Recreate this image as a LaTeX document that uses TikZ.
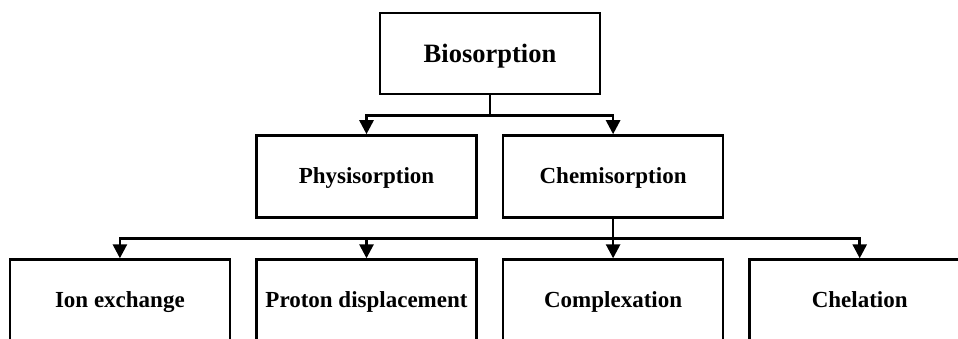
\documentclass[tikz,border=0pt]{standalone}
\usepackage{fontspec}
\setmainfont{Liberation Serif}
\usetikzlibrary{positioning,arrows.meta}
\tikzstyle{box_style}=[draw, line width=2.6pt, anchor=center, text centered,
font=\bfseries\fontsize{23}{27}\selectfont, text height=18pt, text depth=4pt,
minimum width=220pt, minimum height=82pt, inner sep=0pt]
\tikzstyle{box_top}=[box_style, font=\bfseries\fontsize{26.5}{30}\selectfont,
text height=21pt, text depth=3.4pt, minimum height=81pt]
\tikzstyle{myarrow}=[->, >={Triangle[width=14pt,length=14pt]}, line width=2.7pt]
\tikzstyle{line}=[line width=2.7pt]

\begin{document}
\begin{tikzpicture}[x=1pt,y=-1pt]
		\clip (0,0) rectangle (958,339) ;

		\node[box_top] (bio) at (490,53.5) {Biosorption} ;

		\node[box_style] (phys) at (366.5,176.5) {Physisorption} ;
		\node[box_style, right=24pt of phys] (chem) {Chemisorption} ;
		\draw[line] (bio.south) -- ++(0,20) coordinate (j1) ;
		\draw[myarrow] (j1) -| (phys.north) ;
		\draw[myarrow] (j1) -| (chem.north) ;

		\node[box_style, below=39.5pt of phys] (proton) {Proton displacement} ;
		\node[box_style, left=24pt of proton] (ion) {Ion exchange} ;
		\node[box_style, below=39.5pt of chem] (complex) {Complexation} ;
		\node[box_style, right=24pt of complex] (chel) {Chelation} ;
		\draw[line] (chem.south) -- ++(0,20) coordinate (j2) ;
		\draw[myarrow] (j2) -| (ion.north) ;
		\draw[myarrow] (j2) -| (proton.north) ;
		\draw[myarrow] (j2) -- (complex.north) ;
		\draw[myarrow] (j2) -| (chel.north) ;

	\end{tikzpicture}
\end{document}
